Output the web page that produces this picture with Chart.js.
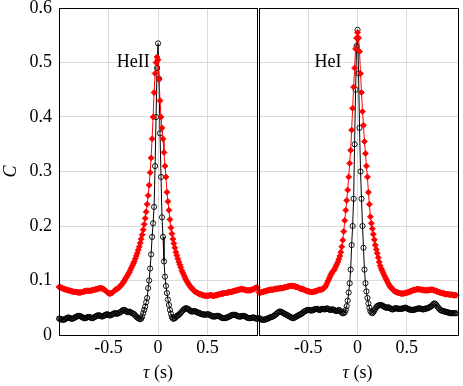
<!DOCTYPE html>
<html>
<head>
<meta charset="utf-8">
<script src="https://cdn.jsdelivr.net/npm/chart.js@4.4.1/dist/chart.umd.min.js"></script>
<style>
  body { margin: 0; background: #fff; }
  #wrap { position: relative; width: 463px; height: 386px; }
  canvas { position: absolute; top: 0; }
  #left { left: 0; }
  #right { left: 254px; }
</style>
</head>
<body>
<div id="wrap">
  <canvas id="left" width="262" height="386"></canvas>
  <canvas id="right" width="209" height="386"></canvas>
</div>
<script>
// lag axis (s)
const tau = [
  -1.00, -0.99, -0.98, -0.97, -0.96, -0.95, -0.94, -0.93, -0.92, -0.91,
  -0.90, -0.89, -0.88, -0.87, -0.86, -0.85, -0.84, -0.83, -0.82, -0.81,
  -0.80, -0.79, -0.78, -0.77, -0.76, -0.75, -0.74, -0.73, -0.72, -0.71,
  -0.70, -0.69, -0.68, -0.67, -0.66, -0.65, -0.64, -0.63, -0.62, -0.61,
  -0.60, -0.59, -0.58, -0.57, -0.56, -0.55, -0.54, -0.53, -0.52, -0.51,
  -0.50, -0.49, -0.48, -0.47, -0.46, -0.45, -0.44, -0.43, -0.42, -0.41,
  -0.40, -0.39, -0.38, -0.37, -0.36, -0.35, -0.34, -0.33, -0.32, -0.31,
  -0.30, -0.29, -0.28, -0.27, -0.26, -0.25, -0.24, -0.23, -0.22, -0.21,
  -0.20, -0.19, -0.18, -0.17, -0.16, -0.15, -0.14, -0.13, -0.12, -0.11,
  -0.10, -0.09, -0.08, -0.07, -0.06, -0.05, -0.04, -0.03, -0.02, -0.01,
  0.00,
  0.01, 0.02, 0.03, 0.04, 0.05, 0.06, 0.07, 0.08, 0.09, 0.10,
  0.11, 0.12, 0.13, 0.14, 0.15, 0.16, 0.17, 0.18, 0.19, 0.20,
  0.21, 0.22, 0.23, 0.24, 0.25, 0.26, 0.27, 0.28, 0.29, 0.30,
  0.31, 0.32, 0.33, 0.34, 0.35, 0.36, 0.37, 0.38, 0.39, 0.40,
  0.41, 0.42, 0.43, 0.44, 0.45, 0.46, 0.47, 0.48, 0.49, 0.50,
  0.51, 0.52, 0.53, 0.54, 0.55, 0.56, 0.57, 0.58, 0.59, 0.60,
  0.61, 0.62, 0.63, 0.64, 0.65, 0.66, 0.67, 0.68, 0.69, 0.70,
  0.71, 0.72, 0.73, 0.74, 0.75, 0.76, 0.77, 0.78, 0.79, 0.80,
  0.81, 0.82, 0.83, 0.84, 0.85, 0.86, 0.87, 0.88, 0.89, 0.90,
  0.91, 0.92, 0.93, 0.94, 0.95, 0.96, 0.97, 0.98, 0.99, 1.00
];

// HeII panel
const heIIRed = [
  0.088, 0.088, 0.087, 0.086, 0.085, 0.085, 0.084, 0.083, 0.083, 0.082,
  0.082, 0.081, 0.081, 0.080, 0.080, 0.079, 0.079, 0.079, 0.079, 0.078,
  0.078, 0.078, 0.078, 0.079, 0.079, 0.080, 0.080, 0.081, 0.081, 0.081,
  0.081, 0.081, 0.081, 0.082, 0.082, 0.083, 0.083, 0.084, 0.084, 0.085,
  0.085, 0.086, 0.086, 0.086, 0.085, 0.084, 0.083, 0.081, 0.080, 0.078,
  0.077, 0.076, 0.076, 0.077, 0.078, 0.080, 0.081, 0.083, 0.084, 0.085,
  0.086, 0.088, 0.090, 0.092, 0.094, 0.097, 0.100, 0.103, 0.106, 0.109,
  0.112, 0.115, 0.119, 0.123, 0.127, 0.131, 0.135, 0.140, 0.145, 0.150,
  0.156, 0.162, 0.169, 0.176, 0.184, 0.193, 0.203, 0.214, 0.226, 0.240,
  0.256, 0.275, 0.298, 0.325, 0.360, 0.400, 0.445, 0.480, 0.500, 0.510,
  0.505,
  0.470, 0.430, 0.400, 0.380, 0.360, 0.335, 0.310, 0.290, 0.262, 0.245,
  0.229, 0.212, 0.197, 0.186, 0.176, 0.168, 0.160, 0.152, 0.146, 0.140,
  0.134, 0.129, 0.124, 0.118, 0.114, 0.110, 0.106, 0.102, 0.099, 0.096,
  0.093, 0.090, 0.088, 0.086, 0.084, 0.082, 0.080, 0.079, 0.078, 0.077,
  0.076, 0.075, 0.075, 0.074, 0.073, 0.073, 0.072, 0.072, 0.072, 0.072,
  0.072, 0.073, 0.073, 0.073, 0.072, 0.072, 0.072, 0.073, 0.073, 0.074,
  0.074, 0.075, 0.075, 0.076, 0.076, 0.076, 0.077, 0.077, 0.077, 0.078,
  0.078, 0.079, 0.079, 0.079, 0.080, 0.080, 0.081, 0.081, 0.082, 0.082,
  0.083, 0.083, 0.084, 0.084, 0.084, 0.084, 0.083, 0.083, 0.082, 0.082,
  0.082, 0.082, 0.082, 0.083, 0.083, 0.084, 0.085, 0.086, 0.087, 0.087
];
const heIIBlack = [
  0.030, 0.030, 0.029, 0.028, 0.028, 0.028, 0.029, 0.030, 0.031, 0.032,
  0.032, 0.031, 0.030, 0.030, 0.030, 0.031, 0.032, 0.033, 0.034, 0.035,
  0.035, 0.035, 0.034, 0.033, 0.032, 0.031, 0.031, 0.031, 0.032, 0.033,
  0.033, 0.033, 0.032, 0.031, 0.031, 0.032, 0.033, 0.034, 0.035, 0.036,
  0.036, 0.036, 0.035, 0.034, 0.034, 0.035, 0.036, 0.037, 0.038, 0.038,
  0.037, 0.036, 0.036, 0.037, 0.038, 0.039, 0.040, 0.040, 0.039, 0.039,
  0.040, 0.041, 0.042, 0.043, 0.045, 0.046, 0.046, 0.045, 0.043, 0.042,
  0.042, 0.043, 0.042, 0.041, 0.040, 0.039, 0.038, 0.036, 0.034, 0.032,
  0.031, 0.030, 0.029, 0.030, 0.034, 0.040, 0.046, 0.052, 0.060, 0.068,
  0.086, 0.100, 0.122, 0.148, 0.180, 0.205, 0.235, 0.310, 0.400, 0.490,
  0.535,
  0.470, 0.370, 0.290, 0.216, 0.180, 0.135, 0.107, 0.090, 0.077, 0.065,
  0.055, 0.046, 0.039, 0.033, 0.030, 0.030, 0.031, 0.033, 0.035, 0.036,
  0.037, 0.039, 0.041, 0.043, 0.045, 0.047, 0.048, 0.049, 0.049, 0.048,
  0.047, 0.045, 0.044, 0.043, 0.043, 0.044, 0.044, 0.043, 0.042, 0.041,
  0.041, 0.040, 0.039, 0.038, 0.038, 0.038, 0.037, 0.037, 0.038, 0.038,
  0.038, 0.037, 0.036, 0.035, 0.034, 0.034, 0.034, 0.034, 0.035, 0.035,
  0.035, 0.034, 0.033, 0.032, 0.031, 0.031, 0.031, 0.031, 0.032, 0.032,
  0.033, 0.034, 0.035, 0.036, 0.037, 0.037, 0.037, 0.037, 0.036, 0.035,
  0.034, 0.034, 0.034, 0.034, 0.035, 0.035, 0.035, 0.034, 0.033, 0.032,
  0.031, 0.031, 0.031, 0.031, 0.032, 0.032, 0.032, 0.031, 0.030, 0.030
];

// HeI panel
const heIRed = [
  0.078, 0.078, 0.078, 0.079, 0.079, 0.080, 0.080, 0.081, 0.081, 0.082,
  0.082, 0.083, 0.083, 0.083, 0.083, 0.084, 0.084, 0.085, 0.085, 0.085,
  0.085, 0.086, 0.086, 0.086, 0.086, 0.087, 0.087, 0.088, 0.088, 0.089,
  0.089, 0.090, 0.090, 0.090, 0.090, 0.090, 0.089, 0.089, 0.088, 0.088,
  0.087, 0.086, 0.085, 0.085, 0.084, 0.084, 0.083, 0.082, 0.081, 0.081,
  0.080, 0.080, 0.079, 0.079, 0.079, 0.079, 0.080, 0.080, 0.081, 0.081,
  0.082, 0.083, 0.083, 0.083, 0.084, 0.085, 0.086, 0.088, 0.091, 0.095,
  0.099, 0.103, 0.107, 0.111, 0.114, 0.117, 0.119, 0.122, 0.126, 0.130,
  0.134, 0.139, 0.145, 0.152, 0.162, 0.174, 0.190, 0.210, 0.229, 0.247,
  0.266, 0.290, 0.315, 0.339, 0.376, 0.416, 0.455, 0.490, 0.525, 0.545,
  0.555,
  0.545, 0.520, 0.480, 0.445, 0.410, 0.385, 0.355, 0.333, 0.310, 0.290,
  0.262, 0.240, 0.217, 0.205, 0.195, 0.185, 0.175, 0.165, 0.157, 0.150,
  0.142, 0.134, 0.127, 0.122, 0.118, 0.114, 0.110, 0.106, 0.102, 0.099,
  0.095, 0.092, 0.089, 0.087, 0.085, 0.083, 0.081, 0.080, 0.079, 0.078,
  0.078, 0.077, 0.077, 0.076, 0.076, 0.076, 0.076, 0.077, 0.077, 0.078,
  0.078, 0.079, 0.080, 0.080, 0.081, 0.082, 0.082, 0.083, 0.083, 0.084,
  0.084, 0.084, 0.084, 0.083, 0.083, 0.083, 0.082, 0.082, 0.082, 0.082,
  0.082, 0.082, 0.083, 0.083, 0.083, 0.083, 0.082, 0.082, 0.081, 0.080,
  0.080, 0.079, 0.078, 0.078, 0.077, 0.077, 0.076, 0.076, 0.075, 0.075,
  0.075, 0.075, 0.074, 0.074, 0.074, 0.074, 0.073, 0.073, 0.073, 0.073
];
const heIBlack = [
  0.031, 0.030, 0.029, 0.028, 0.028, 0.028, 0.028, 0.029, 0.030, 0.030,
  0.031, 0.032, 0.033, 0.033, 0.034, 0.035, 0.036, 0.038, 0.039, 0.041,
  0.042, 0.043, 0.043, 0.042, 0.041, 0.040, 0.039, 0.038, 0.037, 0.036,
  0.035, 0.034, 0.033, 0.032, 0.031, 0.031, 0.032, 0.033, 0.034, 0.035,
  0.036, 0.037, 0.038, 0.039, 0.040, 0.042, 0.043, 0.044, 0.045, 0.046,
  0.046, 0.046, 0.045, 0.045, 0.045, 0.046, 0.047, 0.047, 0.048, 0.048,
  0.047, 0.046, 0.046, 0.047, 0.048, 0.048, 0.047, 0.047, 0.048, 0.049,
  0.048, 0.047, 0.046, 0.046, 0.047, 0.047, 0.046, 0.045, 0.044, 0.044,
  0.045, 0.046, 0.045, 0.043, 0.041, 0.040, 0.040, 0.042, 0.046, 0.053,
  0.063, 0.078, 0.095, 0.120, 0.165, 0.200, 0.250, 0.350, 0.450, 0.530,
  0.560,
  0.480, 0.380, 0.300, 0.250, 0.200, 0.160, 0.120, 0.095, 0.080, 0.068,
  0.058, 0.050, 0.044, 0.041, 0.040, 0.042, 0.045, 0.048, 0.051, 0.053,
  0.054, 0.055, 0.055, 0.055, 0.054, 0.053, 0.052, 0.051, 0.050, 0.050,
  0.051, 0.050, 0.049, 0.048, 0.047, 0.047, 0.048, 0.049, 0.049, 0.049,
  0.048, 0.048, 0.048, 0.048, 0.048, 0.049, 0.049, 0.050, 0.050, 0.049,
  0.048, 0.047, 0.047, 0.046, 0.046, 0.046, 0.046, 0.047, 0.047, 0.048,
  0.048, 0.049, 0.049, 0.048, 0.048, 0.047, 0.047, 0.048, 0.048, 0.049,
  0.049, 0.050, 0.051, 0.052, 0.053, 0.055, 0.057, 0.058, 0.057, 0.055,
  0.052, 0.050, 0.048, 0.046, 0.045, 0.044, 0.044, 0.043, 0.043, 0.042,
  0.042, 0.041, 0.041, 0.040, 0.040, 0.040, 0.040, 0.040, 0.040, 0.040
];

const tauTicks = [-0.5, 0, 0.5];
const tauTickLabels = ['-0.5', '0', '0.5'];
const cTicks = [0, 0.1, 0.2, 0.3, 0.4, 0.5, 0.6];
const cTickLabels = ['0', '0.1', '0.2', '0.3', '0.4', '0.5', '0.6'];

const serif = 'Liberation Serif';
const gridColor = '#dadada';

function pairs(values) {
  return tau.map((t, i) => ({ x: t, y: values[i] }));
}

function redSet(values) {
  return {
    data: pairs(values), showLine: true, order: 0,
    borderColor: '#ff0000', borderWidth: 1,
    pointStyle: 'rectRot', pointRadius: 3,
    pointBackgroundColor: '#ff0000', pointBorderColor: '#ff0000', pointBorderWidth: 0.8
  };
}

function blackSet(values) {
  return {
    data: pairs(values), showLine: true, order: 1,
    borderColor: '#000', borderWidth: 1,
    pointStyle: 'circle', pointRadius: 2.6,
    pointBackgroundColor: 'rgba(0,0,0,0)', pointBorderColor: '#000', pointBorderWidth: 0.9
  };
}

// black box round each panel, snapped to whole pixels
const frame = {
  id: 'frame',
  afterDatasetsDraw(chart) {
    const { ctx, chartArea: a } = chart;
    const l = Math.round(a.left) + 0.5, r = Math.round(a.right) + 0.5;
    const t = Math.round(a.top) + 0.5, b = Math.round(a.bottom) + 0.5;
    ctx.save();
    ctx.strokeStyle = '#000';
    ctx.lineWidth = 1;
    ctx.strokeRect(l, t, r - l, b - t);
    ctx.restore();
  }
};

// panel name and the tau (s) axis title
function panelText(name, nameX) {
  return {
    id: 'panelText',
    beforeDatasetsDraw(chart) {
      const { ctx, scales } = chart;
      ctx.save();
      ctx.fillStyle = '#000';
      ctx.font = '18px "' + serif + '"';
      ctx.textAlign = 'center';
      ctx.textBaseline = 'middle';
      ctx.fillText(name, scales.x.getPixelForValue(nameX), scales.y.getPixelForValue(0.5));

      const cx = scales.x.getPixelForValue(0);
      ctx.textBaseline = 'alphabetic';
      ctx.textAlign = 'left';
      ctx.font = 'italic 18px "' + serif + '"';
      const w1 = ctx.measureText('τ').width;
      ctx.font = '18px "' + serif + '"';
      const w2 = ctx.measureText(' (s)').width;
      const x0 = cx - (w1 + w2) / 2;
      ctx.font = 'italic 18px "' + serif + '"';
      ctx.fillText('τ', x0, 378);
      ctx.font = '18px "' + serif + '"';
      ctx.fillText(' (s)', x0 + w1, 378);
      ctx.restore();
    }
  };
}

function xScale(max) {
  return {
    type: 'linear', min: -1, max: max,
    afterBuildTicks: s => { s.ticks = tauTicks.map(v => ({ value: v })); },
    afterFit: s => { s.height = 51; s.paddingLeft = 0; s.paddingRight = 0; },
    grid: { color: gridColor, drawTicks: false },
    border: { display: false },
    ticks: {
      padding: 2, color: '#000', maxRotation: 0, autoSkip: false,
      font: { family: serif, size: 18 },
      callback: (v, i) => tauTickLabels[i]
    }
  };
}

function yScale(showLabels) {
  return {
    type: 'linear', min: 0, max: 0.6,
    afterBuildTicks: s => { s.ticks = cTicks.map(v => ({ value: v })); },
    afterFit: s => { s.width = showLabels ? 59 : 0; s.paddingTop = 0; s.paddingBottom = 0; },
    grid: { color: gridColor, drawTicks: false },
    border: { display: false },
    title: {
      display: showLabels, text: 'C', color: '#000', padding: 0,
      font: { family: serif, size: 18, style: 'italic' }
    },
    ticks: {
      display: showLabels, padding: 7, color: '#000',
      font: { family: serif, size: 18 },
      callback: (v, i) => cTickLabels[i]
    }
  };
}

function baseOptions(padding, xMax, showLabels) {
  return {
    responsive: false, animation: false, events: [],
    layout: { padding: padding },
    plugins: { legend: { display: false }, tooltip: { enabled: false } },
    elements: { line: { tension: 0 } },
    datasets: { scatter: { clip: false } },
    scales: { x: xScale(xMax), y: yScale(showLabels) }
  };
}

new Chart(document.getElementById('left'), {
  type: 'scatter',
  data: { datasets: [redSet(heIIRed), blackSet(heIIBlack)] },
  options: baseOptions({ top: 8, right: 3, left: 0, bottom: 0 }, 1, true),
  plugins: [frame, panelText('HeII', -0.25)]
});

new Chart(document.getElementById('right'), {
  type: 'scatter',
  data: { datasets: [redSet(heIRed), blackSet(heIBlack)] },
  options: baseOptions({ top: 8, right: 2, left: 5, bottom: 0 }, 1.02, false),
  plugins: [frame, panelText('HeI', -0.30)]
});
</script>
</body>
</html>
